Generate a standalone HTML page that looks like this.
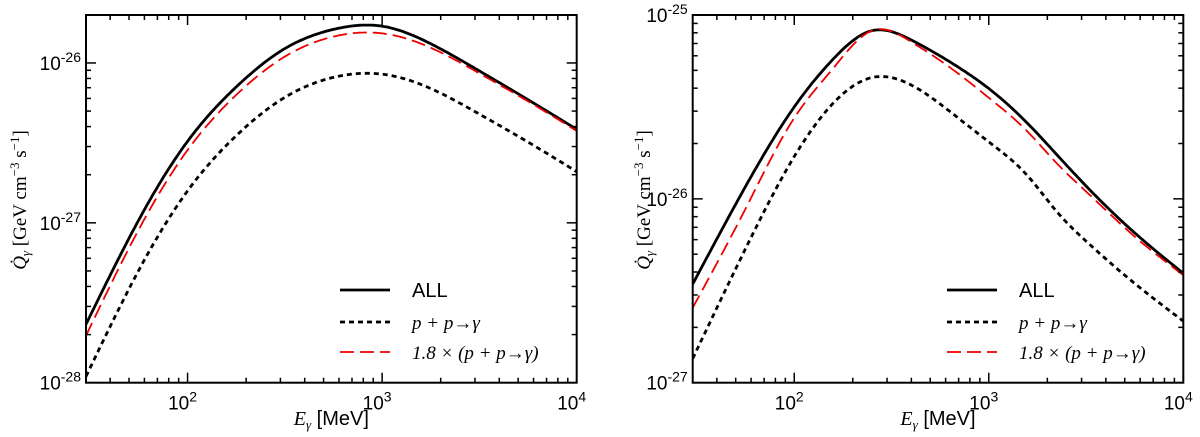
<!DOCTYPE html>
<html><head><meta charset="utf-8"><style>
html,body{margin:0;padding:0;background:#fff;}
svg{display:block;font-family:"Liberation Sans",sans-serif;}
</style></head><body>
<svg id="fig" width="1200" height="437" viewBox="0 0 1200 437" xmlns="http://www.w3.org/2000/svg"></svg>
<script>
// ---- data (log10 E [MeV], log10 Q) ----
const leftLogE    = [1.5,1.75,2.0,2.25,2.5,2.75,3.0,3.25,3.5,3.75,4.0];
const leftAll     = [-27.58,-26.98,-26.49,-26.15,-25.91,-25.79,-25.77,-25.88,-26.05,-26.23,-26.415];
const leftScaled  = [-27.65,-27.04,-26.545,-26.20,-25.96,-25.835,-25.815,-25.905,-26.065,-26.24,-26.425];
const leftPP      = [-27.905,-27.295,-26.80,-26.455,-26.215,-26.09,-26.07,-26.16,-26.32,-26.495,-26.68];
const rightLogE   = [1.5,1.75,2.0,2.2,2.4,2.6,2.8,3.0,3.2,3.35,3.5,3.75,4.0];
const rightAll    = [-26.42,-25.932,-25.50,-25.24,-25.085,-25.135,-25.255,-25.40,-25.59,-25.76,-25.93,-26.185,-26.405];
const rightScaled = [-26.55,-26.053,-25.56,-25.29,-25.085,-25.145,-25.285,-25.45,-25.635,-25.807,-25.96,-26.205,-26.415];
const rightPP     = [-26.82,-26.27,-25.77,-25.48,-25.34,-25.38,-25.525,-25.69,-25.875,-26.07,-26.23,-26.46,-26.665];

const xTickLabels = ["2","3","4"];
const leftYTicks = [-26,-27,-28];
const rightYTicks = [-25,-26,-27];
const legendLabels = ["ALL","p + p\u2192\u03b3","1.8 \u00d7 (p + p\u2192\u03b3)"];

const NS="http://www.w3.org/2000/svg";
const svg=document.getElementById('fig');
function mk(tag,attrs,parent){const e=document.createElementNS(NS,tag);for(const k in attrs)e.setAttribute(k,attrs[k]);(parent||svg).appendChild(e);return e;}

// natural cubic spline
function spline(xs,ys){
  const n=xs.length,h=[],M=new Array(n).fill(0);
  for(let i=0;i<n-1;i++)h[i]=xs[i+1]-xs[i];
  const a=[],b=[],c=[],d=[];
  for(let i=1;i<n-1;i++){a[i]=h[i-1];b[i]=2*(h[i-1]+h[i]);c[i]=h[i];d[i]=6*((ys[i+1]-ys[i])/h[i]-(ys[i]-ys[i-1])/h[i-1]);}
  for(let i=2;i<n-1;i++){const w=a[i]/b[i-1];b[i]-=w*c[i-1];d[i]-=w*d[i-1];}
  for(let i=n-2;i>=1;i--){M[i]=(d[i]-(i<n-2?c[i]*M[i+1]:0))/b[i];}
  return x=>{let i=0;while(i<n-2&&x>xs[i+1])i++;const hi=h[i],A=(xs[i+1]-x)/hi,B=(x-xs[i])/hi;
    return A*ys[i]+B*ys[i+1]+((A*A*A-A)*M[i]+(B*B*B-B)*M[i+1])*hi*hi/6;};
}

function panel(cfg){
  const g=mk('g',{});
  
  
  const {x0,x1,y0,y1,xmin,xmax,ymin,ymax,logE}=cfg;
  const X=v=>x0+(v-xmin)/(xmax-xmin)*(x1-x0);
  const Y=v=>y1-(v-ymin)/(ymax-ymin)*(y1-y0);
  const clip=mk('clipPath',{id:cfg.name+'-clip'},g);
  mk('rect',{x:x0,y:y0,width:x1-x0,height:y1-y0},clip);
  const series=[
    [cfg.all,{stroke:'#000','stroke-width':2.8},'series-all'],
    [cfg.pp,{stroke:'#000','stroke-width':2.8,'stroke-dasharray':'5,4'},'series-pp'],
    [cfg.sc,{stroke:'#e00','stroke-width':1.8,'stroke-dasharray':'14,6'},'series-scaled']
  ];
  [0,2,1].forEach(i=>{
    const s=series[i];
    const f=spline(logE,s[0]);
    const e0=xmin,e1=logE[logE.length-1];
    let d='';
    for(let k=0;k<=250;k++){const e=e0+(e1-e0)*k/250;d+=(k?'L':'M')+X(e).toFixed(1)+','+Y(f(e)).toFixed(1);}
    const p=mk('path',Object.assign({d:d,fill:'none','clip-path':'url(#'+cfg.name+'-clip)'},s[1]),g);
    
    
  });
  const tk=mk('g',{stroke:'#000','stroke-width':1.5},g);
  
  
  for(let d=Math.floor(xmin);d<=Math.ceil(xmax);d++){
    for(let m=1;m<10;m++){
      const v=d+Math.log10(m); if(v<xmin-1e-6||v>xmax+1e-6)continue;
      const L=m===1?10:5,x=X(v);
      mk('line',{x1:x,x2:x,y1:y1,y2:y1-L},tk);mk('line',{x1:x,x2:x,y1:y0,y2:y0+L},tk);
    }
  }
  for(let d=Math.floor(ymin);d<=Math.ceil(ymax);d++){
    for(let m=1;m<10;m++){
      const v=d+Math.log10(m); if(v<ymin-1e-6||v>ymax+1e-6)continue;
      const L=m===1?10:5,y=Y(v);
      mk('line',{x1:x0,x2:x0+L,y1:y,y2:y},tk);mk('line',{x1:x1,x2:x1-L,y1:y,y2:y},tk);
    }
  }
  const frame=mk('rect',{x:x0,y:y0,width:x1-x0,height:y1-y0,fill:'none',stroke:'#000','stroke-width':2},g);
  
  
  xTickLabels.forEach(t=>{
    const v=+t;
    const tx=mk('text',{x:X(v)-5,y:y1+27,'text-anchor':'middle','font-size':19},g);
    
    
    tx.textContent='10';
    const sp=mk('tspan',{dy:-8,'font-size':14},tx);sp.textContent=t;
  });
  cfg.yTicks.forEach(v=>{
    const tx=mk('text',{x:x0-5,y:Y(v)+7,'text-anchor':'end','font-size':19},g);
    
    
    const a=mk('tspan',{},tx);a.textContent='10';
    const sp=mk('tspan',{dy:-8,'font-size':14},tx);sp.textContent=String(v);
  });
  const xt=mk('text',{x:(x0+x1)/2,y:425,'text-anchor':'middle','font-size':20},g);
  
  
  const e1=mk('tspan',{'font-family':'Liberation Serif','font-style':'italic'},xt);e1.textContent='E';
  const e2=mk('tspan',{'font-family':'Liberation Serif','font-style':'italic','font-size':13,dy:4},xt);e2.textContent='\u03b3';
  const e3=mk('tspan',{dy:-4},xt);e3.textContent=' [MeV]';
  const yt=mk('text',{transform:'translate('+(cfg.ytx)+',200) rotate(-90)','text-anchor':'middle','font-size':19,'font-family':'Liberation Serif'},g);
  
  
  const q1=mk('tspan',{'font-style':'italic'},yt);q1.textContent='Q\u0307';
  const q2=mk('tspan',{'font-style':'italic','font-size':13,dy:4},yt);q2.textContent='\u03b3';
  const q3=mk('tspan',{dy:-4},yt);q3.textContent=' [GeV cm';
  const q4=mk('tspan',{dy:-7,'font-size':13},yt);q4.textContent='\u22123';
  const q5=mk('tspan',{dy:7},yt);q5.textContent=' s';
  const q6=mk('tspan',{dy:-7,'font-size':13},yt);q6.textContent='\u22121';
  const q7=mk('tspan',{dy:7},yt);q7.textContent=']';
  const lg=mk('g',{},g);
  
  
  const lx=cfg.legX, ys=[290,322,352];
  const styles=[{stroke:'#000','stroke-width':2.8},{stroke:'#000','stroke-width':2.8,'stroke-dasharray':'5,4'},{stroke:'#e00','stroke-width':1.8,'stroke-dasharray':'14,6'}];
  legendLabels.forEach((lab,i)=>{
    const en=mk('g',{},lg);
    
    
    mk('line',Object.assign({x1:lx,x2:lx+50,y1:ys[i],y2:ys[i]},styles[i]),en);
    const t=mk('text',{x:lx+72,y:ys[i]+7,'font-size':i===0?20:19},en);
    if(i>0){t.setAttribute('font-family','Liberation Serif');t.setAttribute('font-style','italic');}
    t.textContent=lab;
  });
}

panel({name:'left-panel',x0:86,x1:576.7,y0:15,y1:382.7,xmin:1.478,xmax:4,ymin:-28,ymax:-25.7,logE:leftLogE,
  all:leftAll,pp:leftPP,sc:leftScaled,yTicks:leftYTicks,ytx:26,legX:340});
panel({name:'right-panel',x0:692.7,x1:1183.3,y0:15,y1:382.7,xmin:1.478,xmax:4,ymin:-27,ymax:-25,logE:rightLogE,
  all:rightAll,pp:rightPP,sc:rightScaled,yTicks:rightYTicks,ytx:650,legX:947});
</script>
</body></html>
